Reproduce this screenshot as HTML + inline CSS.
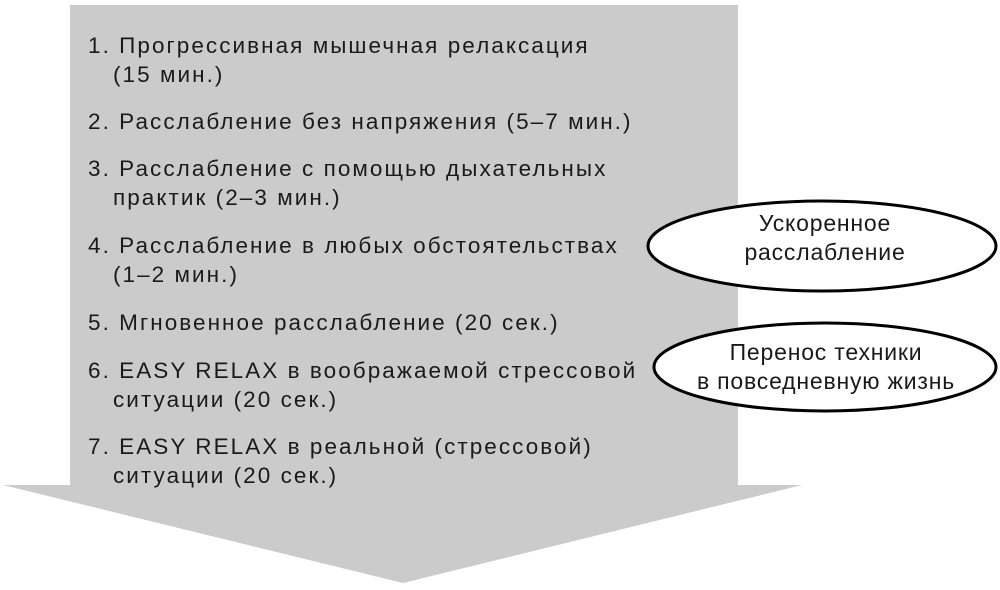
<!DOCTYPE html>
<html><head><meta charset="utf-8"><style>
body{margin:0;width:1000px;height:590px;background:#fff;overflow:hidden;position:relative;font-family:"Liberation Sans","DejaVu Sans",sans-serif;}
svg{position:absolute;left:0;top:0}
.t{position:absolute;font-size:22.5px;letter-spacing:2.05px;color:#1a1a1a;white-space:nowrap;line-height:29px}
.t span{display:block;padding-left:25px}
</style></head><body>
<svg width="1000" height="590">
<polygon points="70,5 738,5 738,485 802,485 403,583 3,485 70,485" fill="#cbcbcb"/>
<ellipse cx="822" cy="246" rx="174" ry="45" fill="#fff" stroke="#000" stroke-width="3"/>
<ellipse cx="825" cy="367" rx="171" ry="44" fill="#fff" stroke="#000" stroke-width="3"/>
<g font-size="23" text-anchor="middle" font-family="Liberation Sans, sans-serif" fill="#1a1a1a" letter-spacing="0.8">
<text x="825" y="231">Ускоренное</text>
<text x="825" y="260">расслабление</text>
<text x="826" y="360">Перенос техники</text>
<text x="826" y="389">в повседневную жизнь</text>
</g>
</svg>
<div class="t" style="left:88px;top:31px">1. Прогрессивная мышечная релаксация<span>(15 мин.)</span></div>
<div class="t" style="left:88px;top:107px">2. Расслабление без напряжения (5–7 мин.)</div>
<div class="t" style="left:88px;top:154px">3. Расслабление с помощью дыхательных<span>практик (2–3 мин.)</span></div>
<div class="t" style="left:88px;top:231px">4. Расслабление в любых обстоятельствах<span>(1–2 мин.)</span></div>
<div class="t" style="left:88px;top:308px">5. Мгновенное расслабление (20 сек.)</div>
<div class="t" style="left:88px;top:356px">6. EASY RELAX в воображаемой стрессовой<span>ситуации (20 сек.)</span></div>
<div class="t" style="left:88px;top:432px">7. EASY RELAX в реальной (стрессовой)<span>ситуации (20 сек.)</span></div>
</body></html>
